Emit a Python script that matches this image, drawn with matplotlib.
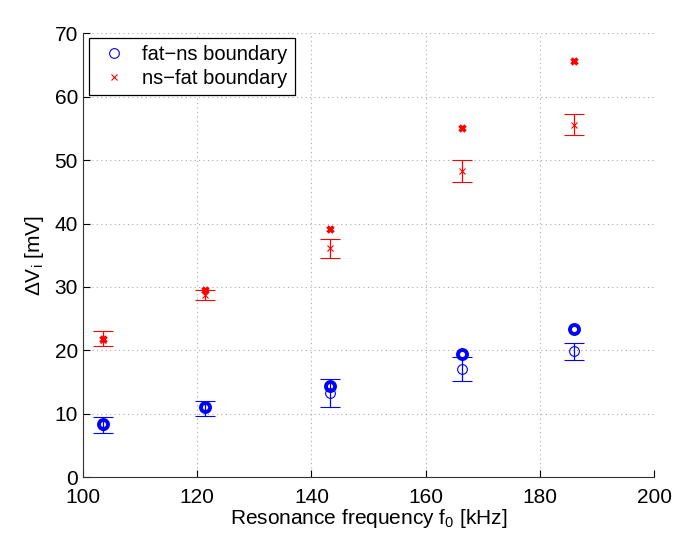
import matplotlib.pyplot as plt
import numpy as np

plt.rcParams['font.family'] = ['Liberation Sans', 'DejaVu Sans']

# resonance frequencies [kHz]
freq = [103.5, 121.3, 143.2, 166.4, 186.0]

# fat-ns boundary: mean, error bar low/high, single bold value
fatns_mean = [8.2, 11.0, 13.2, 17.1, 19.9]
fatns_lo = [7.0, 9.7, 11.1, 15.2, 18.5]
fatns_hi = [9.5, 12.0, 15.4, 18.9, 21.2]
fatns_bold = [8.3, 11.1, 14.4, 19.5, 23.4]

# ns-fat boundary
nsfat_mean = [21.6, 28.8, 36.1, 48.3, 55.6]
nsfat_lo = [20.7, 27.9, 34.6, 46.6, 54.0]
nsfat_hi = [23.0, 29.6, 37.5, 50.0, 57.3]
nsfat_bold = [21.8, 29.5, 39.2, 55.1, 65.6]

f = np.array(freq)
fig = plt.figure(figsize=(6.85, 5.49), dpi=100)
ax = fig.add_axes([0.121, 0.131, 0.834, 0.808])

m = np.array(fatns_mean)
err = [m - np.array(fatns_lo), np.array(fatns_hi) - m]
ax.errorbar(f, m, yerr=err, fmt='o', color='b', mfc='none', ms=7, mew=0.8,
            elinewidth=0.9, capsize=7, capthick=0.9, label='fat\u2212ns boundary')
ax.plot(f, fatns_bold, 'o', color='b', mfc='none', ms=6.5, mew=2.8)

m = np.array(nsfat_mean)
err = [m - np.array(nsfat_lo), np.array(nsfat_hi) - m]
ax.errorbar(f, m, yerr=err, fmt='x', color='r', ms=5, mew=0.8,
            elinewidth=0.9, capsize=7, capthick=0.9, label='ns\u2212fat boundary')
ax.plot(f, nsfat_bold, 'x', color='r', ms=5, mew=2.5)

ax.set_xlim(100, 200)
ax.set_ylim(0, 70)
ax.set_xticks(np.arange(100, 201, 20))
ax.set_yticks(np.arange(0, 71, 10))
ax.tick_params(direction='in', labelsize=15, length=5)
ax.tick_params(axis='x', pad=8)
ax.grid(True, linestyle=(0, (1, 3)), color='#aaaaaa', linewidth=0.8)
ax.spines['top'].set_visible(False)
ax.spines['right'].set_visible(False)
for s in ['left', 'bottom']:
    ax.spines[s].set_color('#333333')

ax.set_xlabel('Resonance frequency f$_\\mathregular{0}$ [kHz]', fontsize=15, labelpad=0)
ax.set_ylabel('\u0394V$_\\mathregular{i}$ [mV]', fontsize=15, labelpad=6)

handles, labels = ax.get_legend_handles_labels()
handles = [h[0] for h in handles]
leg = ax.legend(handles, labels, loc='upper left', fontsize=14.5, fancybox=False,
                edgecolor='black', framealpha=1, handletextpad=0.5, handlelength=1.8,
                borderpad=0.35, labelspacing=0.25, borderaxespad=0,
                bbox_to_anchor=(0.0105, 0.99))
leg.get_frame().set_linewidth(0.9)

fig.savefig('out.png')
